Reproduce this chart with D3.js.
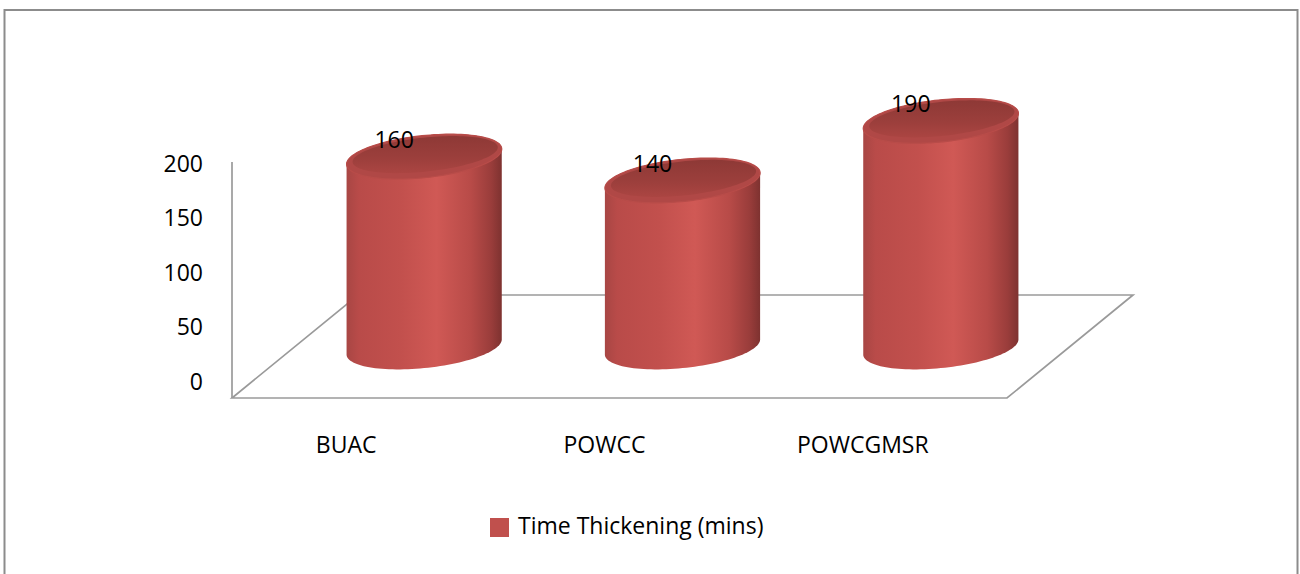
<!DOCTYPE html>
<html>
<head>
<meta charset="utf-8">
<script src="https://cdn.jsdelivr.net/npm/d3@7"></script>
<style>
  html, body { margin: 0; padding: 0; background: #fff; }
  svg { display: block; }
  text { font-family: "Open Sans", "Noto Sans", sans-serif; fill: #000; }
</style>
</head>
<body>
<svg id="chart" width="1300" height="574"></svg>
<script>
// Chart data
const categories = ["BUAC", "POWCC", "POWCGMSR"];
const seriesName = "Time Thickening (mins)";
const values = [160, 140, 190];
const yTicks = [0, 50, 100, 150, 200];

const svg = d3.select("#chart");
const fontSize = 23;

// Outer frame
svg.append("rect")
  .attr("x", 4.5).attr("y", 10)
  .attr("width", 1293).attr("height", 620)
  .attr("fill", "#fff")
  .attr("stroke", "#8c8c8c").attr("stroke-width", 2);

// 3D floor geometry (front edge, back edge)
const floor = { frontY: 398, backY: 295, frontLeft: 232, frontRight: 1007, depthX: 126 };
const axisTopY = 162;

// Value scale for the vertical axis (front plane)
const yAxisScale = d3.scaleLinear().domain([0, 200]).range([381, 163]);
// Value scale for cylinder heights (mid-depth plane)
const cylBaseY = 347;
const yCyl = d3.scaleLinear().domain([0, 200]).range([cylBaseY, cylBaseY - 238]);

// Category scales: front edge (labels) and mid-depth (cylinders)
const xFront = d3.scaleBand().domain(categories)
  .range([floor.frontLeft, floor.frontRight]).padding(0);
const xMid = d3.scaleBand().domain(categories)
  .range([floor.frontLeft + floor.depthX / 2, floor.frontRight + floor.depthX / 2]).padding(0);

const lineColor = "#9a9a9a";

// Floor outline (drawn behind the cylinders)
const floorPts = [
  [floor.frontLeft, floor.frontY],
  [floor.frontRight, floor.frontY],
  [floor.frontRight + floor.depthX, floor.backY],
  [floor.frontLeft + floor.depthX, floor.backY]
];
svg.append("path")
  .attr("d", d3.line()(floorPts) + "Z")
  .attr("fill", "none")
  .attr("stroke", lineColor).attr("stroke-width", 1.7)
  .attr("stroke-linejoin", "miter");

// Vertical axis line
svg.append("line")
  .attr("x1", floor.frontLeft).attr("x2", floor.frontLeft)
  .attr("y1", axisTopY).attr("y2", floor.frontY)
  .attr("stroke", lineColor).attr("stroke-width", 1.7);

// Axis tick labels
const yAxis = d3.axisLeft(yAxisScale).tickValues(yTicks).tickSize(0).tickPadding(0);
const gy = svg.append("g").attr("transform", "translate(203,0)").call(yAxis);
gy.select(".domain").remove();
gy.selectAll("text")
  .attr("font-family", "'Open Sans', sans-serif")
  .attr("font-size", fontSize).attr("fill", "#000").attr("dy", "0.36em");

// Gradients for cylinder shading
const defs = svg.append("defs");
const body = defs.append("linearGradient").attr("id", "cylBody")
  .attr("x1", "0%").attr("x2", "100%").attr("y1", "0%").attr("y2", "0%");
[["0%", "#a84644"], ["8%", "#b94b49"], ["35%", "#c2504d"], ["58%", "#d05955"],
 ["80%", "#b84b48"], ["93%", "#9a3d3b"], ["100%", "#7e3230"]]
  .forEach(([o, c]) => body.append("stop").attr("offset", o).attr("stop-color", c));
const cap = defs.append("linearGradient").attr("id", "cylCap")
  .attr("x1", "0%").attr("x2", "0%").attr("y1", "0%").attr("y2", "100%");
[["0%", "#8e3936"], ["60%", "#9c3f3c"], ["100%", "#ab4542"]]
  .forEach(([o, c]) => cap.append("stop").attr("offset", o).attr("stop-color", c));

// Rotated ellipse helpers
const rx = 78, ry = 21, theta = -6 * Math.PI / 180;
function ellPoint(cx, cy, t, a = rx, b = ry) {
  const ex = a * Math.cos(t), ey = b * Math.sin(t);
  return [cx + ex * Math.cos(theta) - ey * Math.sin(theta),
          cy + ex * Math.sin(theta) + ey * Math.cos(theta)];
}
const t0 = Math.atan(-(ry / rx) * Math.tan(theta));
function halfArc(cx, cy, lower) {
  // half of the ellipse between its two horizontal extremes
  let start = t0;
  const mid = ellPoint(cx, cy, t0 + Math.PI / 2);
  if ((mid[1] > cy) !== lower) start = t0 + Math.PI;
  const pts = [];
  for (let i = 0; i <= 60; i++) pts.push(ellPoint(cx, cy, start + Math.PI * i / 60));
  return pts;
}
function fullEllipse(cx, cy, a, b) {
  return d3.line()(d3.range(0, 121).map(i => ellPoint(cx, cy, 2 * Math.PI * i / 120, a, b))) + "Z";
}

const cyl = svg.append("g").selectAll("g")
  .data(categories.map((c, i) => ({ c, v: values[i] })))
  .join("g");

cyl.each(function (d) {
  const g = d3.select(this);
  const cx = xMid(d.c) + xMid.bandwidth() / 2;
  const topY = yCyl(d.v), botY = yCyl(0);
  const bottom = halfArc(cx, botY, true);   // lower half of base
  const top = halfArc(cx, topY, false);     // upper half of top
  const b = bottom[0][0] < bottom[bottom.length - 1][0] ? bottom : bottom.slice().reverse();
  const tp = top[0][0] > top[top.length - 1][0] ? top : top.slice().reverse();
  g.append("path")
    .attr("d", d3.line()(b.concat(tp)) + "Z")
    .attr("fill", "url(#cylBody)");
  // top cap with a lighter rim
  g.append("path")
    .attr("d", fullEllipse(cx, topY, rx, ry))
    .attr("fill", "#b04846")
    .attr("stroke", "#b84c49").attr("stroke-width", 1.2);
  g.append("path")
    .attr("d", fullEllipse(cx + 1, topY - 2, rx - 5, ry - 4))
    .attr("fill", "url(#cylCap)");
  // value label
  g.append("text")
    .attr("x", cx - 30).attr("y", topY - 17)
    .attr("dy", "0.36em")
    .attr("text-anchor", "middle")
    .attr("font-size", fontSize)
    .text(d.v);
});

// Category labels along the front edge
svg.append("g").selectAll("text").data(categories).join("text")
  .attr("x", d => xFront(d) + xFront.bandwidth() / 2 - 15)
  .attr("y", 453)
  .attr("text-anchor", "middle")
  .attr("font-size", fontSize)
  .text(d => d);

// Legend
const lg = svg.append("g").attr("transform", "translate(490,518)");
lg.append("rect").attr("width", 19).attr("height", 19).attr("fill", "#c0504d");
lg.append("text").attr("x", 28).attr("y", 16).attr("font-size", fontSize).text(seriesName);
</script>
</body>
</html>
